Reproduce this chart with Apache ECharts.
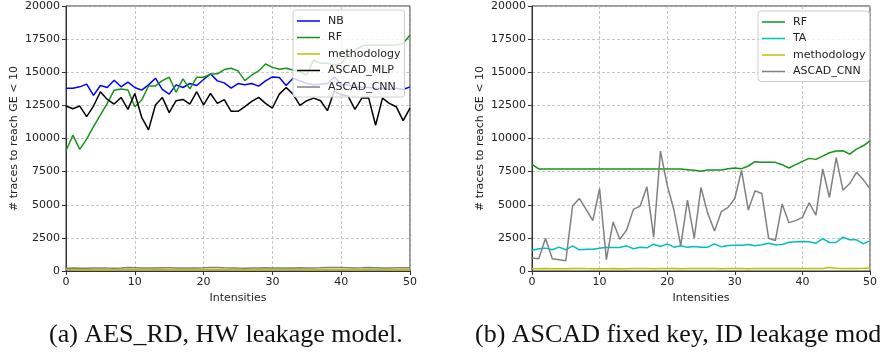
<!DOCTYPE html>
<html>
<head>
<meta charset="utf-8">
<script src="https://cdn.jsdelivr.net/npm/echarts@6/dist/echarts.min.js"></script>
<style>
  html, body { margin: 0; padding: 0; background: #fff; }
  #chart { width: 880px; height: 354px; }
</style>
</head>
<body>
<div id="chart"></div>
<script>
// x values (intensities)
const intensities = [
  0, 1, 2, 3, 4, 5, 6, 7, 8, 9,
  10, 11, 12, 13, 14, 15, 16, 17, 18, 19,
  20, 21, 22, 23, 24, 25, 26, 27, 28, 29,
  30, 31, 32, 33, 34, 35, 36, 37, 38, 39,
  40, 41, 42, 43, 44, 45, 46, 47, 48, 49, 50
];
const yTicks = [0, 2500, 5000, 7500, 10000, 12500, 15000, 17500, 20000];

// (a) AES_RD, HW leakage model
const aesNB = [
  13800, 13800, 13900, 14100, 13250, 14000, 13850, 14400, 13900, 14250,
  13850, 13650, 14050, 14550, 13700, 13350, 14050, 13850, 14150, 14000,
  14450, 14880, 14350, 14200, 13800, 14150, 14050, 14150, 13950, 14350,
  14650, 14600, 14000, 14550, 14350, 14150, 14050, 14100, 14150, 14650,
  14050, 14050, 13900, 13850, 13850, 13800, 13800, 13700, 13800, 13700, 13900
];
const aesRF = [
  9080, 10250, 9180, 9950, 10900, 11780, 12650, 13650, 13740, 13660,
  12400, 12900, 13960, 13970, 14370, 14620, 13490, 14500, 13740, 14620,
  14620, 14850, 14880, 15200, 15300, 15100, 14370, 14790, 15100, 15620,
  15370, 15220, 15300, 15170, 15040, 14790, 15920, 15670, 15670, 15550,
  15670, 16300, 16680, 16980, 17050, 17050, 17050, 17050, 17050, 17180, 17800
];
const aesMethodology = [
  110, 105, 100, 100, 105, 100, 95, 100, 105, 110,
  100, 95, 100, 105, 110, 100, 100, 105, 100, 95,
  100, 105, 110, 105, 100, 100, 95, 100, 105, 100,
  100, 105, 110, 105, 100, 95, 100, 100, 105, 110,
  105, 100, 95, 100, 105, 110, 105, 100, 100, 105, 100
];
const aesMLP = [
  12450, 12250, 12450, 11650, 12450, 13530, 12950, 12600, 13100, 12200,
  13400, 11600, 10650, 12530, 13100, 11950, 12850, 12950, 12600, 13530,
  12530, 13400, 12650, 12930, 12050, 12050, 12400, 12800, 13100, 12650,
  12300, 13350, 13850, 13350, 12500, 12850, 13050, 12850, 12100, 13600,
  13300, 13200, 12200, 13050, 13050, 11000, 13050, 12650, 12400, 11350, 12300
];
const aesCNN = [
  210, 220, 215, 210, 225, 230, 220, 215, 230, 260,
  240, 220, 225, 235, 250, 240, 230, 225, 220, 230,
  240, 255, 270, 250, 235, 220, 215, 225, 230, 240,
  235, 225, 220, 230, 240, 235, 230, 240, 255, 270,
  260, 245, 230, 240, 260, 250, 235, 230, 240, 250, 240
];

// (b) ASCAD fixed key, ID leakage model
const ascadRF = [
  8050, 7700, 7700, 7700, 7700, 7700, 7700, 7700, 7700, 7700,
  7700, 7700, 7700, 7700, 7700, 7700, 7700, 7700, 7700, 7700,
  7700, 7700, 7690, 7650, 7600, 7525, 7625, 7625, 7625, 7725,
  7775, 7725, 7925, 8250, 8200, 8200, 8200, 8025, 7775, 8025,
  8275, 8500, 8425, 8675, 8925, 9050, 9075, 8825, 9200, 9450, 9825
];
const ascadTA = [
  1550, 1675, 1725, 1600, 1800, 1600, 1900, 1600, 1650, 1650,
  1725, 1800, 1775, 1775, 1900, 1675, 1800, 1750, 2025, 1850,
  2050, 1800, 1900, 1800, 1850, 1800, 1800, 2050, 1825, 1925,
  1950, 1950, 2000, 1900, 1975, 2100, 1975, 2000, 2175, 2200,
  2225, 2200, 2100, 2450, 2150, 2150, 2550, 2350, 2350, 2050, 2275
];
const ascadMethodology = [
  170, 175, 180, 175, 170, 175, 185, 190, 180, 175,
  170, 175, 180, 170, 175, 180, 185, 180, 175, 180,
  185, 180, 175, 180, 185, 190, 185, 180, 175, 180,
  185, 180, 175, 180, 185, 180, 190, 185, 180, 185,
  190, 185, 180, 190, 260, 200, 190, 185, 195, 200, 230
];
const ascadCNN = [
  975, 925, 2475, 925, 850, 775, 4900, 5475, 4650, 3800,
  6225, 850, 3700, 2400, 3100, 4650, 4900, 6350, 2550, 9050,
  6475, 4600, 1900, 5350, 2475, 6300, 4350, 3025, 4475, 4800,
  5475, 7600, 4600, 6050, 5850, 2475, 2300, 5050, 3650, 3800,
  4050, 5150, 4225, 7700, 5550, 8550, 6100, 6600, 7450, 6900, 6200
];

const colors = {
  NB: '#0000ff',
  RF: '#1a911a',
  TA: '#00bfbf',
  methodology: '#bfbf00',
  ASCAD_MLP: '#000000',
  ASCAD_CNN: '#808080'
};

const font = 'DejaVu Sans';
const pair = (ys) => intensities.map((x, i) => [x, ys[i]]);

function line(name, ys, idx) {
  return {
    name: name,
    type: 'line',
    xAxisIndex: idx,
    yAxisIndex: idx,
    data: pair(ys),
    symbol: 'none',
    showSymbol: false,
    animation: false,
    color: colors[name],
    lineStyle: { width: 1.5, color: colors[name] }
  };
}

function xAx(idx) {
  return {
    gridIndex: idx,
    type: 'value',
    min: 0, max: 50, interval: 10,
    name: 'Intensities',
    nameLocation: 'middle',
    nameGap: 20,
    nameTextStyle: { fontFamily: font, fontSize: 11, color: '#222' },
    axisLine: { show: true, lineStyle: { color: '#333', width: 1 } },
    axisTick: { show: true, length: 4, lineStyle: { color: '#333' } },
    axisLabel: { fontFamily: font, fontSize: 11, color: '#222', margin: 6, formatter: (v) => String(v) },
    splitLine: { show: true, lineStyle: { color: '#b8b8b8', type: [3, 2], width: 0.8 } }
  };
}

function yAx(idx) {
  return {
    gridIndex: idx,
    type: 'value',
    min: yTicks[0], max: yTicks[yTicks.length - 1], interval: 2500,
    name: '# traces to reach GE < 10',
    nameLocation: 'middle',
    nameGap: 46,
    nameTextStyle: { fontFamily: font, fontSize: 11, color: '#222' },
    axisLine: { show: true, lineStyle: { color: '#333', width: 1 } },
    axisTick: { show: true, length: 4, lineStyle: { color: '#333' } },
    axisLabel: { fontFamily: font, fontSize: 11, color: '#222', margin: 6, formatter: (v) => String(v) },
    splitLine: { show: true, lineStyle: { color: '#b8b8b8', type: [3, 2], width: 0.8 } }
  };
}

function legend(names, left, top) {
  return {
    data: names,
    orient: 'vertical',
    left: left,
    top: top,
    icon: 'rect',
    itemWidth: 23,
    itemHeight: 1.5,
    itemGap: 2.5,
    padding: [4, 4, 3, 4],
    backgroundColor: 'rgba(255,255,255,0.8)',
    borderColor: '#cccccc',
    borderWidth: 1,
    borderRadius: 3,
    selectedMode: false,
    textStyle: { fontFamily: font, fontSize: 11, color: '#222', lineHeight: 14, padding: [0, 0, 0, 3] }
  };
}

const captionStyle = { fontFamily: 'Liberation Serif', fontSize: 26, fontWeight: 'normal', color: '#111' };

const chart = echarts.init(document.getElementById('chart'), null, { renderer: 'canvas' });
chart.setOption({
  animation: false,
  backgroundColor: '#ffffff',
  title: [
    { text: '(a) AES_RD, HW leakage model.', left: 49, top: 322, padding: 0, textStyle: captionStyle },
    { text: '(b) ASCAD fixed key, ID leakage model.', left: 475, top: 322, padding: 0, textStyle: captionStyle }
  ],
  grid: [
    { left: 66, top: 6, width: 344, height: 265, show: true, borderColor: '#333', borderWidth: 1, backgroundColor: 'transparent' },
    { left: 532, top: 6, width: 343, height: 265, show: true, borderColor: '#333', borderWidth: 1, backgroundColor: 'transparent' }
  ],
  xAxis: [xAx(0), xAx(1)],
  yAxis: [yAx(0), yAx(1)],
  legend: [
    legend(['NB', 'RF', 'methodology', 'ASCAD_MLP', 'ASCAD_CNN'], 293, 10),
    legend(['RF', 'TA', 'methodology', 'ASCAD_CNN'], 758, 11)
  ],
  series: [
    line('NB', aesNB, 0),
    line('RF', aesRF, 0),
    line('methodology', aesMethodology, 0),
    line('ASCAD_MLP', aesMLP, 0),
    line('ASCAD_CNN', aesCNN, 0),
    line('RF', ascadRF, 1),
    line('TA', ascadTA, 1),
    line('methodology', ascadMethodology, 1),
    line('ASCAD_CNN', ascadCNN, 1)
  ]
});
</script>
</body>
</html>
